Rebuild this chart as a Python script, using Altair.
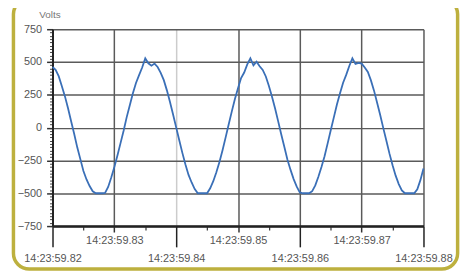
import altair as alt
import pandas as pd

# time offset in milliseconds after 14:23:59.820
t_ms = [i * 0.5 for i in range(121)]

volts = [
    462, 440, 392, 318, 240, 150, 50, -46, -150, -240,
    -330, -395, -445, -485, -500, -500, -500, -498, -452, -380,
    -300, -212, -118, -24, 80, 170, 262, 340, 400, 458,
    528, 490, 472, 488, 462, 418, 362, 284, 196, 100,
    2, -96, -192, -280, -360, -418, -468, -500, -500, -500,
    -500, -462, -408, -340, -262, -172, -74, 26, 124, 218,
    300, 378, 420, 482, 528, 474, 502, 468, 440, 390,
    318, 236, 146, 48, -52, -148, -244, -322, -392, -450,
    -494, -500, -500, -500, -484, -440, -374, -300, -218, -120,
    -20, 78, 176, 262, 342, 402, 470, 528, 486, 494,
    488, 458, 424, 360, 282, 190, 96, -4, -100, -198,
    -286, -366, -430, -478, -500, -500, -500, -500, -470, -400,
    -312,
]

x_long_ticks = [59.82, 59.84, 59.86, 59.88]
x_mid_ticks = [59.83, 59.85, 59.87]
x_minor_ticks = [59.825, 59.835, 59.845, 59.855, 59.865, 59.875]
y_major = [-750, -500, -250, 0, 250, 500, 750]
y_minor = list(range(-750, 751, 25))

df = pd.DataFrame({"time": [59.82 + t / 1000.0 for t in t_ms], "volts": volts})

FONT = "Liberation Sans"
LABEL_COLOR = "#555555"
GRID = "#5a5a5a"
fmt = "'14:23:' + format(datum.value, '.2f')"

xs = alt.Scale(domain=[59.82, 59.88], nice=False, zero=False)
ys = alt.Scale(domain=[-750, 750], nice=False)

axis_mid = alt.Axis(
    orient="bottom", values=x_mid_ticks, labelExpr=fmt, tickSize=6, tickWidth=1.5,
    tickColor="#333333", labelPadding=3, labelFontSize=11, labelFont=FONT,
    labelColor=LABEL_COLOR, domainColor="#222222", domainWidth=2, grid=True,
    gridColor=GRID, gridWidth=1.5, title=None, labelFlush=False, labelOverlap=False,
)
axis_long = alt.Axis(
    orient="bottom", values=x_long_ticks, labelExpr=fmt, tickSize=21, tickWidth=1.5,
    tickColor="#222222", labelPadding=6, labelFontSize=11, labelFont=FONT,
    labelColor=LABEL_COLOR, domainColor="#222222", domainWidth=2, grid=True,
    gridColor={"condition": {"test": "abs(datum.value - 59.84) < 0.001", "value": "#cccccc"},
               "value": GRID},
    gridWidth=1.5, title=None, labelFlush=False, labelOverlap=False,
)
axis_minor_x = alt.Axis(
    orient="bottom", values=x_minor_ticks, labels=False, tickSize=4, tickWidth=1.2,
    tickColor="#333333", domain=False, grid=False, title=None,
)
axis_y_major = alt.Axis(
    orient="left", values=y_major, tickSize=6, tickWidth=1.5, tickColor="#333333",
    labelPadding=5, labelFontSize=11, labelFont=FONT, labelColor=LABEL_COLOR,
    domainColor="#222222", domainWidth=2, grid=True, gridColor=GRID, gridWidth=1.5,
    title="Volts", titleAngle=0, titleAlign="left", titleBaseline="top",
    titleX=-14, titleY=-20, titleFontSize=10, titleFont=FONT, titleFontWeight="normal",
    titleColor="#777777",
)
axis_y_minor = alt.Axis(
    orient="left", values=y_minor, labels=False, tickSize=3, tickWidth=1,
    tickColor="#444444", domain=False, grid=False, title=None,
)

base = alt.Chart(df)
wave = base.mark_line(color="#3a6fb7", strokeWidth=1.8).encode(
    x=alt.X("time:Q", scale=xs, axis=axis_mid),
    y=alt.Y("volts:Q", scale=ys, axis=axis_y_major),
)
layer_long = base.mark_line(opacity=0).encode(
    x=alt.X("time:Q", scale=xs, axis=axis_long),
    y=alt.Y("volts:Q", scale=ys, axis=axis_y_minor),
)
layer_minor = base.mark_line(opacity=0).encode(
    x=alt.X("time:Q", scale=xs, axis=axis_minor_x),
    y=alt.Y("volts:Q", scale=ys, axis=None),
)
frame = alt.Chart(pd.DataFrame({"k": [0]})).mark_rect(
    filled=False, stroke="#bdb03e", strokeWidth=3.5, cornerRadius=16
).encode(
    x=alt.value(-39.5), x2=alt.value(409.5), y=alt.value(-31), y2=alt.value(242.5)
)

chart = (
    alt.layer(layer_long, layer_minor, wave, frame)
    .resolve_axis(x="independent", y="independent")
    .properties(
        width=375, height=199,
        autosize=alt.AutoSizeParams(type="none"),
        padding={"left": 45, "top": 20, "right": 45, "bottom": 46},
        background="white",
    )
    .configure_view(stroke=None)
)

chart.save("out.html", embed_options={"renderer": "svg", "actions": False})
